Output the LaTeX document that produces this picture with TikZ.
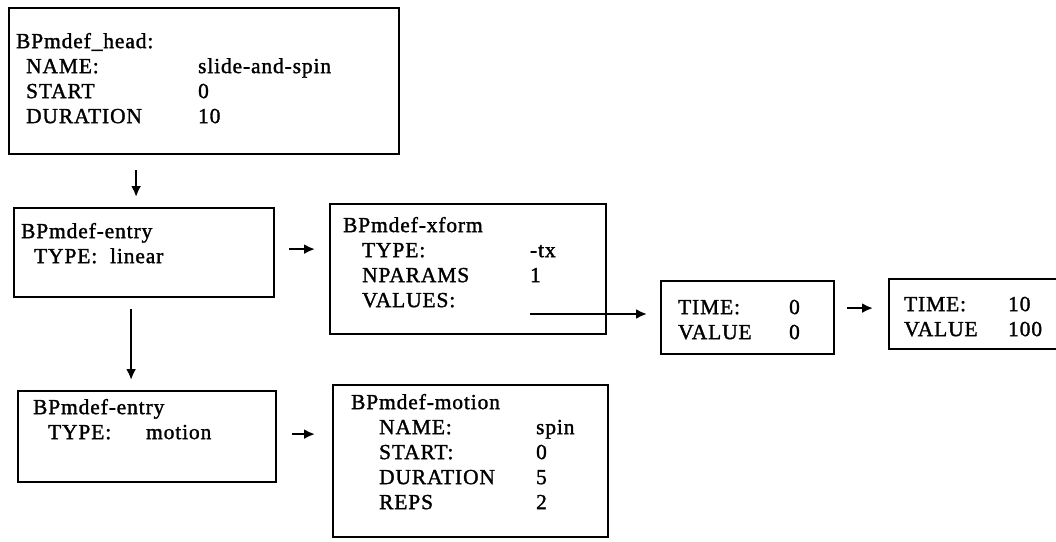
\documentclass[tikz,border=0pt]{standalone}
\usepackage{fontspec}
\setmainfont{Liberation Serif}[LetterSpace=4,FakeBold=1.4]
\usepackage{tikz}
\usetikzlibrary{arrows.meta,positioning,calc}
\newcommand{\panel}[4]{\parbox[c][#2][t]{#1}{\vspace*{#3}\strut#4}}
\newcommand{\field}[3]{\hspace*{#1}\makebox[#2][l]{#3}}
\tikzset{
 frame/.style={draw=black,line width=2.2pt,anchor=north west,inner xsep=#1,inner ysep=0pt,
   align=left,font=\fontsize{21.5pt}{25pt}\selectfont},
 arr/.style={-{Latex[length=11pt,width=10pt]},line width=2.3pt,draw=black}
}
\begin{document}
\begin{tikzpicture}[x=1pt,y=-1pt]
\useasboundingbox (0,0) rectangle (1056,541);
\node[frame=7pt] (head) at (8,7) {\panel{376pt}{146pt}{22.5pt}{BPmdef\_head:\\
  \field{10pt}{172pt}{NAME:}slide-and-spin\\
  \field{10pt}{172pt}{START}0\\
  \field{10pt}{172pt}{DURATION}10}};
\node[frame=7pt] (entA) at (13,207) {\panel{246pt}{89pt}{12.5pt}{BPmdef-entry\\
  \field{13pt}{76pt}{TYPE:}linear}};
\node[frame=13pt] (xform) at (329,203) {\panel{250pt}{130pt}{10.5pt}{BPmdef-xform\\
  \field{19pt}{168pt}{TYPE:}-tx\\
  \field{19pt}{168pt}{NPARAMS}1\\
  \field{19pt}{168pt}{VALUES:}}};
\node[frame=15pt] (entB) at (17,390) {\panel{228pt}{91pt}{5.5pt}{BPmdef-entry\\
  \field{15pt}{98pt}{TYPE:}motion}};
\node[frame=18pt] (motion) at (332,384) {\panel{239pt}{152pt}{6.5pt}{BPmdef-motion\\
  \field{28pt}{157pt}{NAME:}spin\\
  \field{28pt}{157pt}{START:}0\\
  \field{28pt}{157pt}{DURATION}5\\
  \field{28pt}{157pt}{REPS}2}};
\node[frame=17pt] (timeA) at (660,280) {\panel{139pt}{73pt}{15.5pt}{%
  \field{0pt}{111pt}{TIME:}0\\
  \field{0pt}{111pt}{VALUE}0}};
\node[frame=15pt] (timeB) at (888,278) {\panel{172pt}{70pt}{14.5pt}{%
  \field{0pt}{104pt}{TIME:}10\\
  \field{0pt}{104pt}{VALUE}100}};
\coordinate (vals) at (530,314);
\draw[arr,shorten <=15pt,shorten >=10pt] ([xshift=-8pt]entA.north |- head.south) -- ([xshift=-8pt]entA.north);
\draw[arr,shorten <=11pt,shorten >=10pt] ([xshift=-13pt]entA.south) -- ([xshift=-13pt]entA.south |- entB.north);
\draw[arr,shorten <=14pt,shorten >=14pt] ([yshift=3.5pt]entA.east) -- ([yshift=3.5pt]entA.east -| xform.west);
\draw[arr,shorten <=15pt,shorten >=17pt] ([yshift=2.5pt]entB.east) -- ([yshift=2.5pt]entB.east -| motion.west);
\draw[arr,shorten >=13pt] (vals) -- (vals -| timeA.west);
\draw[arr,shorten <=12pt,shorten >=15pt] ([yshift=9.5pt]timeA.east) -- ([yshift=9.5pt]timeA.east -| timeB.west);
\end{tikzpicture}
\end{document}
